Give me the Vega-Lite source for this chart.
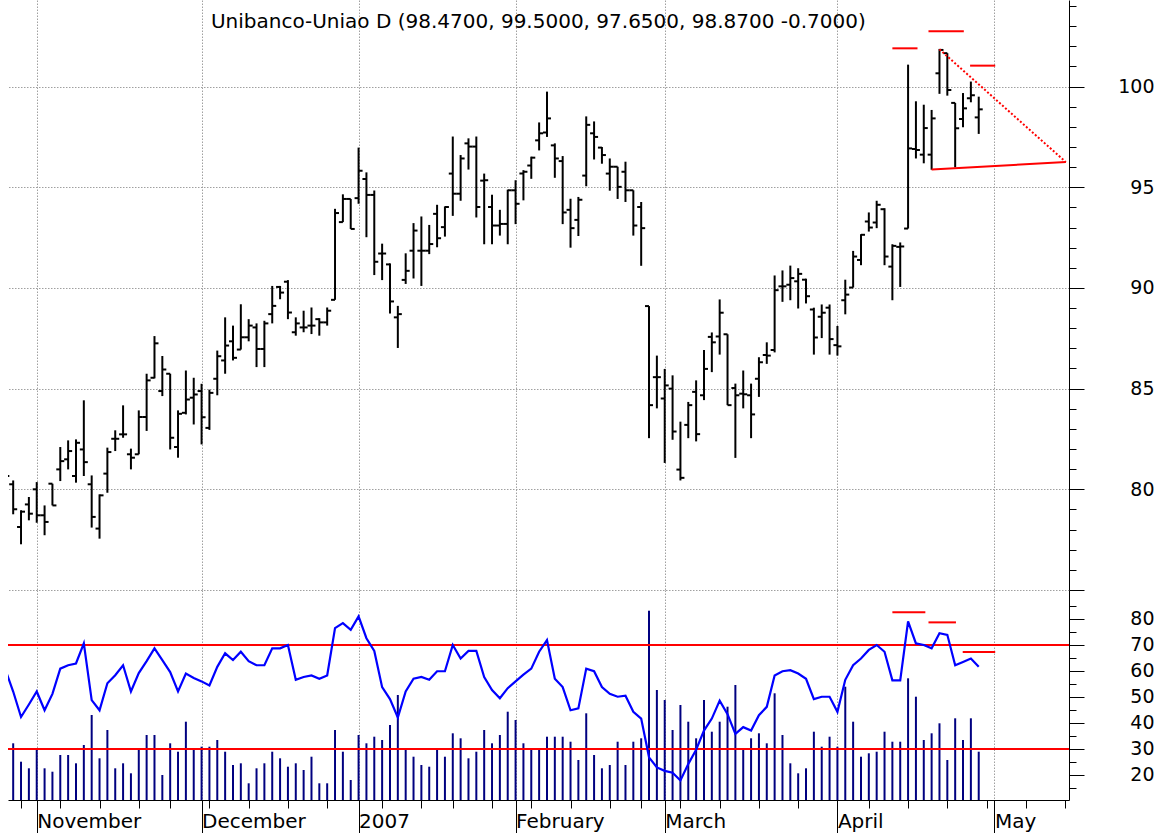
{
  "$schema": "https://vega.github.io/schema/vega-lite/v6.json",
  "background": "white",
  "padding": {"left": 7, "top": 0, "right": 0, "bottom": 0},
  "bounds": "flush",
  "spacing": 0,
  "config": {"view": {"stroke": null}, "font": "DejaVu Sans"},
  "datasets": {
    "bars": [
      {"t":-4,"d":"2006-10-26","o":80.4,"h":80.9,"l":80.2,"c":80.66,"v":40,"rsi":60.6},
      {"t":-3,"d":"2006-10-27","o":80.25,"h":80.44,"l":78.76,"c":79.01,"v":56.7,"rsi":52.1},
      {"t":-2,"d":"2006-10-30","o":78.13,"h":78.96,"l":77.27,"c":78.89,"v":38.3,"rsi":42.3},
      {"t":-1,"d":"2006-10-31","o":79.25,"h":79.62,"l":78.46,"c":78.79,"v":31.7,"rsi":47.1},
      {"t":0,"d":"2006-11-01","o":80.0,"h":80.36,"l":78.34,"c":78.71,"v":51.7,"rsi":52.1},
      {"t":1,"d":"2006-11-02","o":78.71,"h":79.2,"l":77.72,"c":78.38,"v":31.7,"rsi":44.9},
      {"t":2,"d":"2006-11-03","o":80.28,"h":80.28,"l":79.2,"c":79.2,"v":28.3,"rsi":51.2},
      {"t":3,"d":"2006-11-06","o":80.99,"h":82.1,"l":80.41,"c":81.4,"v":45,"rsi":60.9},
      {"t":4,"d":"2006-11-07","o":81.49,"h":82.43,"l":80.99,"c":81.9,"v":45,"rsi":62.2},
      {"t":5,"d":"2006-11-08","o":80.66,"h":82.48,"l":80.33,"c":82.31,"v":36.7,"rsi":62.9},
      {"t":6,"d":"2006-11-09","o":81.98,"h":84.42,"l":80.66,"c":81.35,"v":55,"rsi":70.6},
      {"t":7,"d":"2006-11-10","o":80.25,"h":80.69,"l":78.1,"c":78.63,"v":85,"rsi":48.8},
      {"t":8,"d":"2006-11-13","o":78.05,"h":79.75,"l":77.55,"c":79.7,"v":41.7,"rsi":44.9},
      {"t":9,"d":"2006-11-14","o":80.78,"h":82.07,"l":79.83,"c":81.85,"v":70,"rsi":55.3},
      {"t":10,"d":"2006-11-15","o":82.51,"h":82.93,"l":81.9,"c":82.51,"v":31.7,"rsi":58.4},
      {"t":11,"d":"2006-11-16","o":82.73,"h":84.17,"l":82.56,"c":82.73,"v":36.7,"rsi":62.2},
      {"t":12,"d":"2006-11-17","o":81.74,"h":82.02,"l":80.99,"c":81.57,"v":26.7,"rsi":52.1},
      {"t":13,"d":"2006-11-20","o":81.74,"h":83.92,"l":81.74,"c":83.59,"v":50,"rsi":59.2},
      {"t":14,"d":"2006-11-21","o":83.59,"h":85.74,"l":82.9,"c":85.41,"v":65,"rsi":63.8},
      {"t":15,"d":"2006-11-22","o":85.54,"h":87.61,"l":85.51,"c":87.25,"v":65,"rsi":68.7},
      {"t":16,"d":"2006-11-24","o":84.88,"h":86.62,"l":84.63,"c":85.95,"v":25,"rsi":64.2},
      {"t":17,"d":"2006-11-27","o":85.74,"h":85.74,"l":81.98,"c":82.56,"v":56.7,"rsi":59.6},
      {"t":18,"d":"2006-11-28","o":82.1,"h":83.92,"l":81.57,"c":83.75,"v":48.3,"rsi":52.1},
      {"t":19,"d":"2006-11-29","o":83.8,"h":85.9,"l":83.72,"c":84.46,"v":78.3,"rsi":59.0},
      {"t":20,"d":"2006-11-30","o":84.55,"h":85.54,"l":83.22,"c":84.71,"v":51.7,"rsi":57.3},
      {"t":21,"d":"2006-12-01","o":84.88,"h":85.24,"l":82.23,"c":83.58,"v":53.3,"rsi":56.0},
      {"t":22,"d":"2006-12-04","o":83.05,"h":84.95,"l":82.95,"c":84.79,"v":53.3,"rsi":54.4},
      {"t":23,"d":"2006-12-05","o":85.49,"h":86.89,"l":84.67,"c":86.61,"v":60,"rsi":61.6},
      {"t":24,"d":"2006-12-06","o":86.4,"h":88.54,"l":85.74,"c":87.14,"v":48.3,"rsi":66.8},
      {"t":25,"d":"2006-12-07","o":87.35,"h":88.13,"l":86.4,"c":86.53,"v":35,"rsi":64.2},
      {"t":26,"d":"2006-12-08","o":86.94,"h":89.19,"l":86.94,"c":87.55,"v":36.7,"rsi":67.4},
      {"t":27,"d":"2006-12-11","o":87.55,"h":88.45,"l":87.35,"c":88.13,"v":16.7,"rsi":63.8},
      {"t":28,"d":"2006-12-12","o":88.04,"h":88.24,"l":86.07,"c":86.97,"v":31.7,"rsi":62.2},
      {"t":29,"d":"2006-12-13","o":86.97,"h":88.37,"l":86.07,"c":88.24,"v":36.7,"rsi":62.2},
      {"t":30,"d":"2006-12-14","o":88.7,"h":90.1,"l":88.24,"c":89.11,"v":48.3,"rsi":68.7},
      {"t":31,"d":"2006-12-15","o":90.05,"h":90.1,"l":89.44,"c":89.77,"v":41.7,"rsi":68.7},
      {"t":32,"d":"2006-12-18","o":90.31,"h":90.39,"l":88.45,"c":88.78,"v":33.3,"rsi":70.0},
      {"t":33,"d":"2006-12-19","o":87.8,"h":88.54,"l":87.63,"c":88.24,"v":36.7,"rsi":56.6},
      {"t":34,"d":"2006-12-20","o":88.04,"h":88.87,"l":87.8,"c":88.04,"v":30,"rsi":57.7},
      {"t":35,"d":"2006-12-21","o":88.13,"h":89.03,"l":87.71,"c":88.13,"v":43.3,"rsi":58.3},
      {"t":36,"d":"2006-12-22","o":88.45,"h":88.5,"l":87.63,"c":88.29,"v":16.7,"rsi":57.0},
      {"t":37,"d":"2006-12-26","o":88.29,"h":89.03,"l":88.13,"c":88.87,"v":16.7,"rsi":58.3},
      {"t":38,"d":"2006-12-27","o":89.41,"h":93.93,"l":89.41,"c":93.72,"v":70,"rsi":76.5},
      {"t":39,"d":"2006-12-28","o":93.27,"h":94.65,"l":93.27,"c":94.42,"v":48.3,"rsi":78.4},
      {"t":40,"d":"2006-12-29","o":94.42,"h":94.42,"l":92.93,"c":92.93,"v":20,"rsi":75.8},
      {"t":41,"d":"2007-01-03","o":94.46,"h":96.97,"l":94.18,"c":95.82,"v":65,"rsi":81.0},
      {"t":42,"d":"2007-01-04","o":95.41,"h":95.74,"l":92.52,"c":94.62,"v":56.7,"rsi":72.6},
      {"t":43,"d":"2007-01-05","o":94.62,"h":94.84,"l":90.64,"c":91.3,"v":63.3,"rsi":67.7},
      {"t":44,"d":"2007-01-08","o":91.71,"h":92.2,"l":90.39,"c":91.71,"v":60,"rsi":53.8},
      {"t":45,"d":"2007-01-09","o":91.17,"h":91.22,"l":88.73,"c":89.33,"v":75,"rsi":49.2},
      {"t":46,"d":"2007-01-10","o":88.54,"h":89.11,"l":87.02,"c":88.7,"v":105,"rsi":42.1},
      {"t":47,"d":"2007-01-11","o":90.4,"h":91.72,"l":90.2,"c":90.85,"v":50,"rsi":52.1},
      {"t":48,"d":"2007-01-12","o":91.85,"h":93.22,"l":90.47,"c":92.85,"v":43.3,"rsi":57.0},
      {"t":49,"d":"2007-01-16","o":91.85,"h":93.55,"l":90.1,"c":91.85,"v":35,"rsi":57.7},
      {"t":50,"d":"2007-01-17","o":91.85,"h":93.13,"l":91.68,"c":92.18,"v":33.3,"rsi":56.6},
      {"t":51,"d":"2007-01-18","o":93.68,"h":94.13,"l":92.02,"c":92.47,"v":51.7,"rsi":59.9},
      {"t":52,"d":"2007-01-19","o":93.02,"h":94.05,"l":92.55,"c":94.02,"v":43.3,"rsi":59.9},
      {"t":53,"d":"2007-01-22","o":95.68,"h":97.52,"l":93.58,"c":94.68,"v":66.7,"rsi":70.0},
      {"t":54,"d":"2007-01-23","o":94.68,"h":96.6,"l":94.33,"c":96.43,"v":61.7,"rsi":64.8},
      {"t":55,"d":"2007-01-24","o":97.18,"h":97.43,"l":95.88,"c":97.02,"v":41.7,"rsi":67.7},
      {"t":56,"d":"2007-01-25","o":97.02,"h":97.52,"l":93.5,"c":94.02,"v":48.3,"rsi":67.7},
      {"t":57,"d":"2007-01-26","o":95.33,"h":95.68,"l":92.17,"c":95.35,"v":70,"rsi":57.7},
      {"t":58,"d":"2007-01-29","o":94.02,"h":94.63,"l":92.17,"c":93.1,"v":56.7,"rsi":52.7},
      {"t":59,"d":"2007-01-30","o":93.1,"h":93.88,"l":92.6,"c":93.18,"v":65,"rsi":49.5},
      {"t":60,"d":"2007-01-31","o":93.18,"h":94.88,"l":92.17,"c":94.85,"v":88.3,"rsi":53.4},
      {"t":61,"d":"2007-02-01","o":94.85,"h":95.35,"l":93.17,"c":94.18,"v":80,"rsi":56.0},
      {"t":62,"d":"2007-02-02","o":95.68,"h":95.85,"l":94.35,"c":95.77,"v":56.7,"rsi":58.6},
      {"t":63,"d":"2007-02-05","o":96.08,"h":96.52,"l":95.42,"c":96.47,"v":50,"rsi":60.9},
      {"t":64,"d":"2007-02-06","o":97.33,"h":98.22,"l":96.83,"c":97.68,"v":51.7,"rsi":67.4},
      {"t":65,"d":"2007-02-07","o":97.72,"h":99.75,"l":97.5,"c":98.42,"v":63.3,"rsi":71.9},
      {"t":66,"d":"2007-02-08","o":97.08,"h":97.18,"l":95.47,"c":96.43,"v":63.3,"rsi":57.0},
      {"t":67,"d":"2007-02-09","o":96.3,"h":96.55,"l":93.17,"c":93.75,"v":63.3,"rsi":53.8},
      {"t":68,"d":"2007-02-12","o":93.88,"h":94.43,"l":92.0,"c":92.97,"v":58.3,"rsi":44.9},
      {"t":69,"d":"2007-02-13","o":93.38,"h":94.52,"l":92.58,"c":94.38,"v":40,"rsi":45.6},
      {"t":70,"d":"2007-02-14","o":95.58,"h":98.52,"l":95.05,"c":98.1,"v":86.7,"rsi":60.9},
      {"t":71,"d":"2007-02-15","o":97.68,"h":98.27,"l":96.38,"c":97.5,"v":45,"rsi":59.9},
      {"t":72,"d":"2007-02-16","o":96.97,"h":97.0,"l":96.17,"c":96.6,"v":31.7,"rsi":53.8},
      {"t":73,"d":"2007-02-20","o":95.68,"h":96.43,"l":94.83,"c":96.02,"v":35,"rsi":51.2},
      {"t":74,"d":"2007-02-21","o":96.02,"h":96.02,"l":94.42,"c":95.02,"v":58.3,"rsi":50.1},
      {"t":75,"d":"2007-02-22","o":95.77,"h":96.27,"l":94.27,"c":94.85,"v":35,"rsi":50.5},
      {"t":76,"d":"2007-02-23","o":94.85,"h":94.85,"l":92.6,"c":93.1,"v":58.3,"rsi":44.3},
      {"t":77,"d":"2007-02-26","o":94.02,"h":94.27,"l":91.1,"c":92.97,"v":61.7,"rsi":41.7},
      {"t":78,"d":"2007-02-27","o":89.1,"h":89.1,"l":82.54,"c":84.18,"v":189.3,"rsi":26.8},
      {"t":79,"d":"2007-02-28","o":85.57,"h":86.64,"l":84.02,"c":85.57,"v":110,"rsi":22.9},
      {"t":80,"d":"2007-03-01","o":84.51,"h":85.98,"l":81.31,"c":85.16,"v":100,"rsi":21.6},
      {"t":81,"d":"2007-03-02","o":85.0,"h":85.66,"l":82.46,"c":82.87,"v":70,"rsi":20.9},
      {"t":82,"d":"2007-03-05","o":80.98,"h":83.36,"l":80.44,"c":80.57,"v":95,"rsi":17.9},
      {"t":83,"d":"2007-03-06","o":83.2,"h":84.34,"l":82.54,"c":84.18,"v":78.3,"rsi":24.2},
      {"t":84,"d":"2007-03-07","o":84.84,"h":85.41,"l":82.38,"c":82.74,"v":61.7,"rsi":29.7},
      {"t":85,"d":"2007-03-08","o":84.67,"h":86.92,"l":84.43,"c":85.98,"v":100,"rsi":37.1},
      {"t":86,"d":"2007-03-09","o":87.57,"h":87.79,"l":85.82,"c":87.3,"v":68.3,"rsi":41.7},
      {"t":87,"d":"2007-03-12","o":87.59,"h":89.43,"l":86.69,"c":88.77,"v":78.3,"rsi":48.6},
      {"t":88,"d":"2007-03-13","o":87.7,"h":87.7,"l":84.18,"c":84.18,"v":93.3,"rsi":43.4},
      {"t":89,"d":"2007-03-14","o":85.03,"h":85.25,"l":81.56,"c":84.67,"v":115,"rsi":35.8},
      {"t":90,"d":"2007-03-15","o":84.75,"h":85.9,"l":84.02,"c":84.72,"v":51.7,"rsi":38.4},
      {"t":91,"d":"2007-03-16","o":84.67,"h":85.25,"l":82.54,"c":83.72,"v":61.7,"rsi":37.1},
      {"t":92,"d":"2007-03-19","o":85.49,"h":86.56,"l":84.59,"c":86.31,"v":66.7,"rsi":43.0},
      {"t":93,"d":"2007-03-20","o":86.67,"h":87.3,"l":86.23,"c":86.64,"v":56.7,"rsi":46.2},
      {"t":94,"d":"2007-03-21","o":86.92,"h":90.62,"l":86.8,"c":89.89,"v":106.7,"rsi":58.3},
      {"t":95,"d":"2007-03-22","o":90.08,"h":90.87,"l":89.31,"c":90.08,"v":65,"rsi":59.9},
      {"t":96,"d":"2007-03-23","o":90.16,"h":91.11,"l":89.39,"c":90.49,"v":36.7,"rsi":60.3},
      {"t":97,"d":"2007-03-26","o":90.33,"h":90.98,"l":88.98,"c":90.7,"v":26.7,"rsi":59.0},
      {"t":98,"d":"2007-03-27","o":90.41,"h":90.46,"l":89.23,"c":89.59,"v":31.7,"rsi":57.0},
      {"t":99,"d":"2007-03-28","o":88.93,"h":89.02,"l":86.69,"c":87.54,"v":68.3,"rsi":49.2},
      {"t":100,"d":"2007-03-29","o":88.57,"h":89.18,"l":87.51,"c":88.77,"v":53.3,"rsi":50.1},
      {"t":101,"d":"2007-03-30","o":89.02,"h":89.18,"l":86.69,"c":87.46,"v":63.3,"rsi":50.1},
      {"t":102,"d":"2007-04-02","o":87.16,"h":88.11,"l":86.64,"c":87.1,"v":53.3,"rsi":44.3},
      {"t":103,"d":"2007-04-03","o":89.39,"h":90.41,"l":88.69,"c":89.67,"v":113.3,"rsi":56.6},
      {"t":104,"d":"2007-04-04","o":90.02,"h":91.84,"l":90.02,"c":91.56,"v":78.3,"rsi":62.2},
      {"t":105,"d":"2007-04-05","o":91.39,"h":92.67,"l":91.13,"c":92.64,"v":43.3,"rsi":64.8},
      {"t":106,"d":"2007-04-09","o":93.3,"h":93.75,"l":92.8,"c":93.0,"v":46.7,"rsi":68.1},
      {"t":107,"d":"2007-04-10","o":93.25,"h":94.33,"l":92.97,"c":94.13,"v":48.3,"rsi":70.0},
      {"t":108,"d":"2007-04-11","o":93.91,"h":93.96,"l":91.13,"c":91.56,"v":68.3,"rsi":67.4},
      {"t":109,"d":"2007-04-12","o":91.06,"h":92.17,"l":89.39,"c":92.09,"v":58.3,"rsi":56.4},
      {"t":110,"d":"2007-04-13","o":92.04,"h":92.26,"l":90.05,"c":92.06,"v":58.3,"rsi":56.4},
      {"t":111,"d":"2007-04-16","o":92.95,"h":101.09,"l":92.95,"c":96.93,"v":121.7,"rsi":79.1},
      {"t":112,"d":"2007-04-17","o":96.9,"h":99.27,"l":96.43,"c":96.85,"v":103.3,"rsi":70.6},
      {"t":113,"d":"2007-04-18","o":96.62,"h":99.1,"l":96.19,"c":97.94,"v":60,"rsi":70.0},
      {"t":114,"d":"2007-04-19","o":96.62,"h":98.84,"l":95.87,"c":98.42,"v":66.7,"rsi":68.7},
      {"t":115,"d":"2007-04-20","o":100.66,"h":101.87,"l":99.64,"c":101.82,"v":76.7,"rsi":74.5},
      {"t":116,"d":"2007-04-23","o":101.66,"h":101.66,"l":99.55,"c":99.83,"v":40,"rsi":73.9},
      {"t":117,"d":"2007-04-24","o":99.19,"h":99.19,"l":95.99,"c":97.93,"v":81.7,"rsi":62.2},
      {"t":118,"d":"2007-04-25","o":98.39,"h":99.68,"l":97.98,"c":98.92,"v":60,"rsi":63.5},
      {"t":119,"d":"2007-04-26","o":99.42,"h":100.25,"l":99.22,"c":99.57,"v":81.7,"rsi":64.8},
      {"t":120,"d":"2007-04-27","o":98.47,"h":99.5,"l":97.65,"c":98.87,"v":48.3,"rsi":61.6}
    ],
    "priceLines": [
      {"kind":"resistance","t1":115,"p1":101.85,"t2":131.1,"p2":96.25},
      {"kind":"support","t1":114,"p1":95.88,"t2":131.1,"p2":96.25},
      {"kind":"peak","t1":109.0,"p1":101.9,"t2":112.2,"p2":101.9},
      {"kind":"peak","t1":113.6,"p1":102.75,"t2":118.1,"p2":102.75},
      {"kind":"peak","t1":118.9,"p1":101.04,"t2":122.1,"p2":101.04}
    ],
    "rsiPeaks": [
      {"t1":109.0,"t2":113.2,"r":82.6},
      {"t1":113.6,"t2":117.1,"r":78.7},
      {"t1":117.96,"t2":122.1,"r":67.3}
    ],
    "levels": [
      {"kind":"overbought","rsi":70},
      {"kind":"oversold","rsi":30}
    ],
    "caption": [
      {"label":"Unibanco-Uniao D (98.4700, 99.5000, 97.6500, 98.8700 -0.7000)"}
    ]
  },
  "vconcat": [
    {
      "width": 1061,
      "height": 590,
      "layer": [
        {
          "data": {"name": "bars"},
          "mark": {"type": "rule", "color": "black", "strokeWidth": 2, "clip": true},
          "encoding": {
            "x": {"field": "t", "type": "quantitative",
              "scale": {"domain": [-3.66, 131.5], "nice": false, "zero": false},
              "axis": {"values": [0, 21, 41, 61, 80, 102, 122], "grid": true, "gridColor": "#a0a0a0", "gridDash": [1.5, 1.5], "gridWidth": 1,
                "labels": false, "ticks": false, "domain": false, "title": null}},
            "y": {"field": "l", "type": "quantitative",
              "scale": {"domain": [75, 104.3], "nice": false, "zero": false},
              "axis": {"orient": "right", "title": null,
                "values": [75, 80, 85, 90, 95, 100],
                "domainColor": "black", "domainWidth": 1, "tickColor": "black", "tickWidth": 1, "tickSize": 15,
                "grid": true, "gridColor": "#a0a0a0", "gridDash": [1.5, 1.5], "gridWidth": 1,
                "labelExpr": "datum.value > 75 ? datum.label : ''",
                "labelAlign": "right", "labelBaseline": "middle", "labelPadding": 70,
                "labelFont": "DejaVu Sans", "labelFontSize": 19, "labelColor": "black",
                "labelOverlap": false, "labelFlush": false, "labelBound": false}},
            "y2": {"field": "h"}
          }
        },
        {
          "data": {"name": "bars"},
          "mark": {"type": "tick", "orient": "horizontal", "size": 4, "thickness": 2, "xOffset": -2, "color": "black", "opacity": 1, "clip": true},
          "encoding": {
            "x": {"field": "t", "type": "quantitative", "axis": null},
            "y": {"field": "o", "type": "quantitative",
              "axis": {"orient": "right", "title": null,
                "values": [76,77,78,79,81,82,83,84,86,87,88,89,91,92,93,94,96,97,98,99,101,102,103,104],
                "domain": false, "tickColor": "black", "tickWidth": 1, "tickSize": 7,
                "labels": false, "grid": false}}
          }
        },
        {
          "data": {"name": "bars"},
          "mark": {"type": "tick", "orient": "horizontal", "size": 4, "thickness": 2, "xOffset": 2, "color": "black", "opacity": 1, "clip": true},
          "encoding": {
            "x": {"field": "t", "type": "quantitative", "axis": null},
            "y": {"field": "c", "type": "quantitative", "axis": null}
          }
        },
        {
          "data": {"name": "priceLines"},
          "transform": [{"filter": "datum.kind === 'resistance'"}],
          "mark": {"type": "rule", "color": "#ff0000", "strokeWidth": 2, "strokeDash": [2, 2], "clip": true},
          "encoding": {
            "x": {"field": "t1", "type": "quantitative", "axis": null},
            "x2": {"field": "t2"},
            "y": {"field": "p1", "type": "quantitative", "axis": null},
            "y2": {"field": "p2"}
          }
        },
        {
          "data": {"name": "priceLines"},
          "transform": [{"filter": "datum.kind !== 'resistance'"}],
          "mark": {"type": "rule", "color": "#ff0000", "strokeWidth": 2, "clip": true},
          "encoding": {
            "x": {"field": "t1", "type": "quantitative", "axis": null},
            "x2": {"field": "t2"},
            "y": {"field": "p1", "type": "quantitative", "axis": null},
            "y2": {"field": "p2"}
          }
        },
        {
          "data": {"name": "caption"},
          "mark": {"type": "text", "font": "DejaVu Sans", "fontSize": 20, "color": "black", "align": "center", "baseline": "alphabetic"},
          "encoding": {
            "text": {"field": "label"},
            "x": {"datum": 63.9, "type": "quantitative", "axis": null},
            "y": {"datum": 102.91, "type": "quantitative", "axis": null}
          }
        }
      ],
      "resolve": {"axis": {"x": "independent", "y": "independent"}}
    },
    {
      "width": 1061,
      "height": 210,
      "layer": [
        {
          "data": {"name": "bars"},
          "mark": {"type": "rule", "color": "#000080", "strokeWidth": 2, "clip": true},
          "encoding": {
            "x": {"field": "t", "type": "quantitative",
              "scale": {"domain": [-3.66, 131.5], "nice": false, "zero": false},
              "axis": {"orient": "bottom", "title": null,
                "values": [-2, 3, 8, 13, 17, 22, 27, 32, 37, 44, 49, 53, 58, 63, 68, 73, 77, 82, 87, 92, 97, 106, 111, 116, 121, 126, 131],
                "tickSize": 8, "tickColor": "black", "tickWidth": 1, "domainColor": "black", "domainWidth": 1,
                "labels": false, "grid": false}},
            "y": {"field": "v", "type": "quantitative", "scale": {"domain": [0, 210], "nice": false, "zero": false}, "axis": null},
            "y2": {"datum": 0}
          }
        },
        {
          "data": {"name": "levels"},
          "mark": {"type": "rule", "color": "#ff0000", "strokeWidth": 2},
          "encoding": {
            "y": {"field": "rsi", "type": "quantitative", "scale": {"domain": [10.38, 91.15], "nice": false, "zero": false},
              "axis": {"orient": "right", "title": null,
                "values": [15, 25, 35, 45, 55, 65, 75, 85],
                "domain": false, "tickColor": "black", "tickWidth": 1, "tickSize": 7,
                "labels": false, "grid": false}}
          }
        },
        {
          "data": {"name": "bars"},
          "mark": {"type": "line", "color": "#0000ff", "strokeWidth": 2.2, "clip": true},
          "encoding": {
            "x": {"field": "t", "type": "quantitative",
              "axis": {"orient": "bottom", "title": null,
                "values": [0, 21, 41, 61, 80, 102, 122],
                "tickSize": 33, "tickColor": "black", "tickWidth": 1, "domain": false,
                "grid": true, "gridColor": "#a0a0a0", "gridDash": [1.5, 1.5], "gridWidth": 1,
                "labelExpr": "datum.value == 0 ? 'November' : datum.value == 21 ? 'December' : datum.value == 41 ? '2007' : datum.value == 61 ? 'February' : datum.value == 80 ? 'March' : datum.value == 102 ? 'April' : 'May'",
                "labelAlign": "left", "labelBaseline": "alphabetic", "labelPadding": -6, "labelDx": 3,
                "labelFont": "DejaVu Sans", "labelFontSize": 20, "labelColor": "black",
                "labelOverlap": false, "labelFlush": false, "labelBound": false}},
            "y": {"field": "rsi", "type": "quantitative",
              "scale": {"domain": [10.38, 91.15], "nice": false, "zero": false},
              "axis": {"orient": "right", "title": null,
                "values": [20, 30, 40, 50, 60, 70, 80],
                "domainColor": "black", "domainWidth": 1, "tickColor": "black", "tickWidth": 1, "tickSize": 15,
                "grid": false,
                "labelAlign": "right", "labelBaseline": "middle", "labelPadding": 70,
                "labelFont": "DejaVu Sans", "labelFontSize": 19, "labelColor": "black",
                "labelOverlap": false, "labelFlush": false, "labelBound": false}}
          }
        },
        {
          "data": {"name": "rsiPeaks"},
          "mark": {"type": "rule", "color": "#ff0000", "strokeWidth": 2, "clip": true},
          "encoding": {
            "x": {"field": "t1", "type": "quantitative", "axis": null},
            "x2": {"field": "t2"},
            "y": {"field": "r", "type": "quantitative", "scale": {"domain": [10.38, 91.15], "nice": false, "zero": false}, "axis": null}
          }
        }
      ],
      "resolve": {"scale": {"y": "independent"}, "axis": {"x": "independent"}}
    }
  ]
}
